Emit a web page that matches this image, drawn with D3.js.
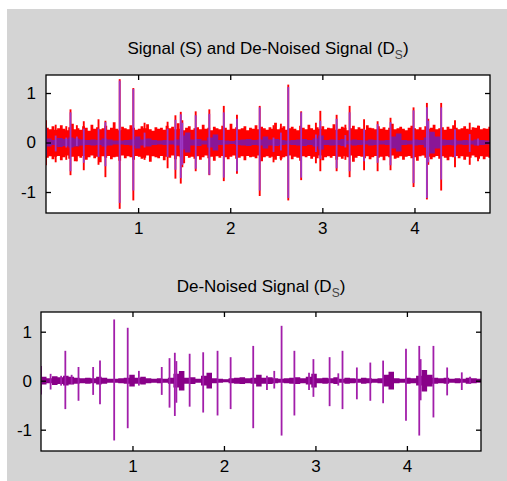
<!DOCTYPE html>
<html><head><meta charset="utf-8">
<script src="https://cdn.jsdelivr.net/npm/d3@7"></script>
<style>
body{margin:0;background:#fff}
svg{display:block}
text{font-family:"Liberation Sans",Arial,sans-serif}
</style>
</head><body>
<svg id="c" width="507" height="481"></svg>
<script>
// ---- data ----
const titleTop = "Signal (S) and De-Noised Signal (D";
const titleBottom = "De-Noised Signal (D";
const titleSub = "S";
const xTicks = [1, 2, 3, 4];
const xTickLabels = ["1", "2", "3", "4"];
const yTicks = [-1, 0, 1];
const yTickLabels = ["-1", "0", "1"];

// spike times (s) and extrema of de-noised signal D_S and of noisy signal S
const spikeT  = [0.000,0.105,0.220,0.266,0.335,0.410,0.570,0.645,0.800,0.948,1.070,1.320,1.405,1.463,1.480,1.625,1.773,1.930,2.073,2.320,2.470,2.550,2.630,2.770,2.930,2.978,3.155,3.250,3.296,3.453,3.600,3.740,3.990,4.135,4.150,4.290,4.440,4.600,4.690];
const denUp   = [0.30,0.14,0.10,0.61,0.12,0.28,0.28,0.41,1.25,1.08,0.20,0.28,0.46,0.57,0.40,0.55,0.58,0.61,0.48,0.71,0.10,0.20,1.12,0.61,0.16,0.44,0.48,0.15,0.61,0.27,0.37,0.41,0.65,0.71,0.44,0.71,0.27,0.17,0.08];
const denDn   = [-0.28,-0.18,-0.10,-0.58,-0.07,-0.41,-0.29,-0.48,-1.22,-0.97,-0.10,-0.29,-0.55,-0.72,-0.45,-0.53,-0.65,-0.71,-0.58,-0.97,-0.19,-0.16,-1.12,-0.71,-0.19,-0.33,-0.52,-0.10,-0.58,-0.38,-0.41,-0.46,-0.82,-1.12,-0.40,-0.75,-0.30,-0.19,-0.06];
const sigUp   = [0.45,0.36,0.33,0.67,0.35,0.43,0.47,0.44,1.28,1.10,0.40,0.42,0.55,0.62,0.45,0.63,0.67,0.74,0.56,0.74,0.35,0.38,1.17,0.63,0.40,0.64,0.56,0.36,0.74,0.47,0.43,0.50,0.71,0.80,0.48,0.80,0.45,0.40,0.34];
const sigDn   = [-0.46,-0.40,-0.35,-0.66,-0.38,-0.56,-0.45,-0.70,-1.34,-1.17,-0.35,-0.52,-0.73,-0.83,-0.50,-0.58,-0.66,-0.78,-0.63,-1.08,-0.40,-0.36,-1.17,-0.76,-0.42,-0.58,-0.58,-0.35,-0.70,-0.56,-0.58,-0.56,-0.90,-1.15,-0.45,-0.97,-0.50,-0.45,-0.38];

// noise band of S (hundredths), one value every bandStep seconds
const bandStep = 0.0302;
const bandHi = [30,27,33,26,29,35,28,25,31,38,27,29,26,33,30,24,36,28,31,27,
29,34,26,30,41,28,25,32,29,27,35,30,26,28,33,29,37,27,24,31,
28,30,26,34,29,32,27,39,28,25,30,33,26,29,31,27,36,28,30,25,
32,29,27,34,30,26,38,28,31,27,29,33,25,30,28,35,27,32,29,26,
31,28,40,27,30,33,26,29,32,28,25,34,30,27,36,29,26,31,28,33,
27,30,29,37,26,28,32,30,25,29,34,27,31,28,26,35,30,29,27,33,
28,31,26,30,38,27,29,32,28,25,30,34,29,27,31,26,33,28,30,36,
27,29,31,26,32,28,35,30,27,29,33,28,26,31,30,34,27,29,28,32,30];
const bandLo = [31,28,34,29,27,36,30,26,33,29,38,28,31,27,35,30,26,32,29,40,
28,31,27,34,30,29,37,26,32,28,30,35,27,29,33,31,26,39,28,30,
32,27,36,29,31,26,34,28,30,42,27,31,29,33,28,35,30,26,32,29,
37,28,31,27,30,34,29,26,33,31,28,36,27,30,29,32,26,38,30,28,
31,29,35,27,33,30,28,26,34,29,31,37,28,30,27,33,29,32,26,36,
30,28,31,27,35,29,33,28,30,26,39,31,27,29,32,28,34,30,27,31,
29,36,28,30,26,33,31,28,35,29,27,32,30,37,28,26,31,29,34,30,
27,33,28,31,36,29,30,27,32,28,35,29,31,26,30,33,28,34,29,31,32];

// residual amplitude of de-noised signal (hundredths), one value every denStep seconds
const denStep = 0.0603;
const denAmp = [8,5,9,7,10,8,6,5,6,5,8,6,4,4,5,6,12,6,8,5,
4,5,4,6,14,20,6,7,4,10,16,5,4,3,5,6,7,5,6,12,
6,7,5,4,5,6,7,5,8,14,5,6,5,7,4,6,5,4,6,5,
4,5,12,18,5,4,6,5,10,22,12,6,5,6,4,5,4,6,5,4,4];

// ---- drawing ----
const svg = d3.select("#c");
svg.append("rect").attr("x", 7).attr("y", 9).attr("width", 500).attr("height", 472).attr("fill", "#d4d4d4");

function panel(o) {
  const W = o.right - o.left, H = o.bottom - o.top;
  const g = svg.append("g").attr("transform", `translate(${o.left},${o.top})`);
  const x = d3.scaleLinear().domain(o.xd).range([0, W]);
  const y = d3.scaleLinear().domain(o.yd).range([H, 0]);
  g.append("rect").attr("width", W).attr("height", H).attr("fill", "#fff");
  const cid = "clip" + o.id;
  g.append("clipPath").attr("id", cid).append("rect").attr("width", W).attr("height", H);
  const d = g.append("g").attr("clip-path", `url(#${cid})`);

  if (o.showSignal) {
    const area = d3.area().curve(d3.curveStepAfter)
      .x((v, i) => x(i * bandStep)).y0((v, i) => y(-bandLo[i] / 100)).y1(v => y(v / 100));
    d.append("path").datum(bandHi).attr("d", area).attr("fill", "#ff0000");
    d.selectAll("line.s").data(spikeT).join("line").attr("class", "s")
      .attr("x1", t => x(t)).attr("x2", t => x(t))
      .attr("y1", (t, i) => y(sigUp[i])).attr("y2", (t, i) => y(sigDn[i]))
      .attr("stroke", "#ff0000").attr("stroke-width", 1.9);
  }
  const dArea = d3.area().curve(d3.curveStepAfter)
    .x((v, i) => x(i * denStep)).y0(v => y(-v / 100)).y1(v => y(v / 100));
  d.append("path").datum(denAmp).attr("d", dArea).attr("fill", o.baseCol);
  d.append("line").attr("x1", 0).attr("x2", W).attr("y1", y(0)).attr("y2", y(0))
    .attr("stroke", o.baseCol).attr("stroke-width", 2);
  d.selectAll("line.d").data(spikeT).join("line").attr("class", "d")
    .attr("x1", t => x(t)).attr("x2", t => x(t))
    .attr("y1", (t, i) => y(denUp[i])).attr("y2", (t, i) => y(denDn[i]))
    .attr("stroke", o.spikeCol).attr("stroke-width", 1.8);

  // box
  g.append("rect").attr("width", W).attr("height", H).attr("fill", "none")
    .attr("stroke", "#000").attr("stroke-width", 1.3);

  const fs = 17;
  const ax = [
    g.append("g").attr("transform", `translate(0,${H})`)
      .call(d3.axisBottom(x).tickValues(xTicks).tickSize(-5).tickPadding(9).tickFormat((v, i) => xTickLabels[i])),
    g.append("g").call(d3.axisTop(x).tickValues(xTicks).tickSize(-5).tickFormat("")),
    g.append("g").call(d3.axisLeft(y).tickValues(yTicks).tickSize(-5).tickPadding(o.ypad).tickFormat((v, i) => yTickLabels[i])),
    g.append("g").attr("transform", `translate(${W},0)`)
      .call(d3.axisRight(y).tickValues(yTicks).tickSize(-5).tickFormat(""))
  ];
  ax.forEach(a => {
    a.select(".domain").remove();
    a.selectAll("line").attr("stroke", "#000").attr("stroke-width", 1.3);
    a.selectAll("text").attr("font-size", fs).attr("fill", "#000")
      .attr("font-family", '"Liberation Sans",Arial,sans-serif');
  });

  const t = svg.append("text").attr("x", o.left + W / 2).attr("y", o.titleY)
    .attr("text-anchor", "middle").attr("font-size", fs).attr("fill", "#000");
  t.append("tspan").text(o.title);
  t.append("tspan").text(titleSub).attr("font-size", 12).attr("dy", 5).attr("fill", "#444");
  t.append("tspan").text(")").attr("dy", -5);
}

panel({id: "a", left: 46, right: 490, top: 75, bottom: 213, xd: [0, 4.82], yd: [-1.424, 1.364],
  showSignal: true, baseCol: "#8a1696", spikeCol: "#9c37c4", ypad: 10, title: titleTop, titleY: 54});
panel({id: "b", left: 41, right: 481, top: 312, bottom: 451, xd: [0, 4.81], yd: [-1.435, 1.402],
  showSignal: false, baseCol: "#880088", spikeCol: "#a21eaa", ypad: 9, title: titleBottom, titleY: 292});
</script>
</body></html>
